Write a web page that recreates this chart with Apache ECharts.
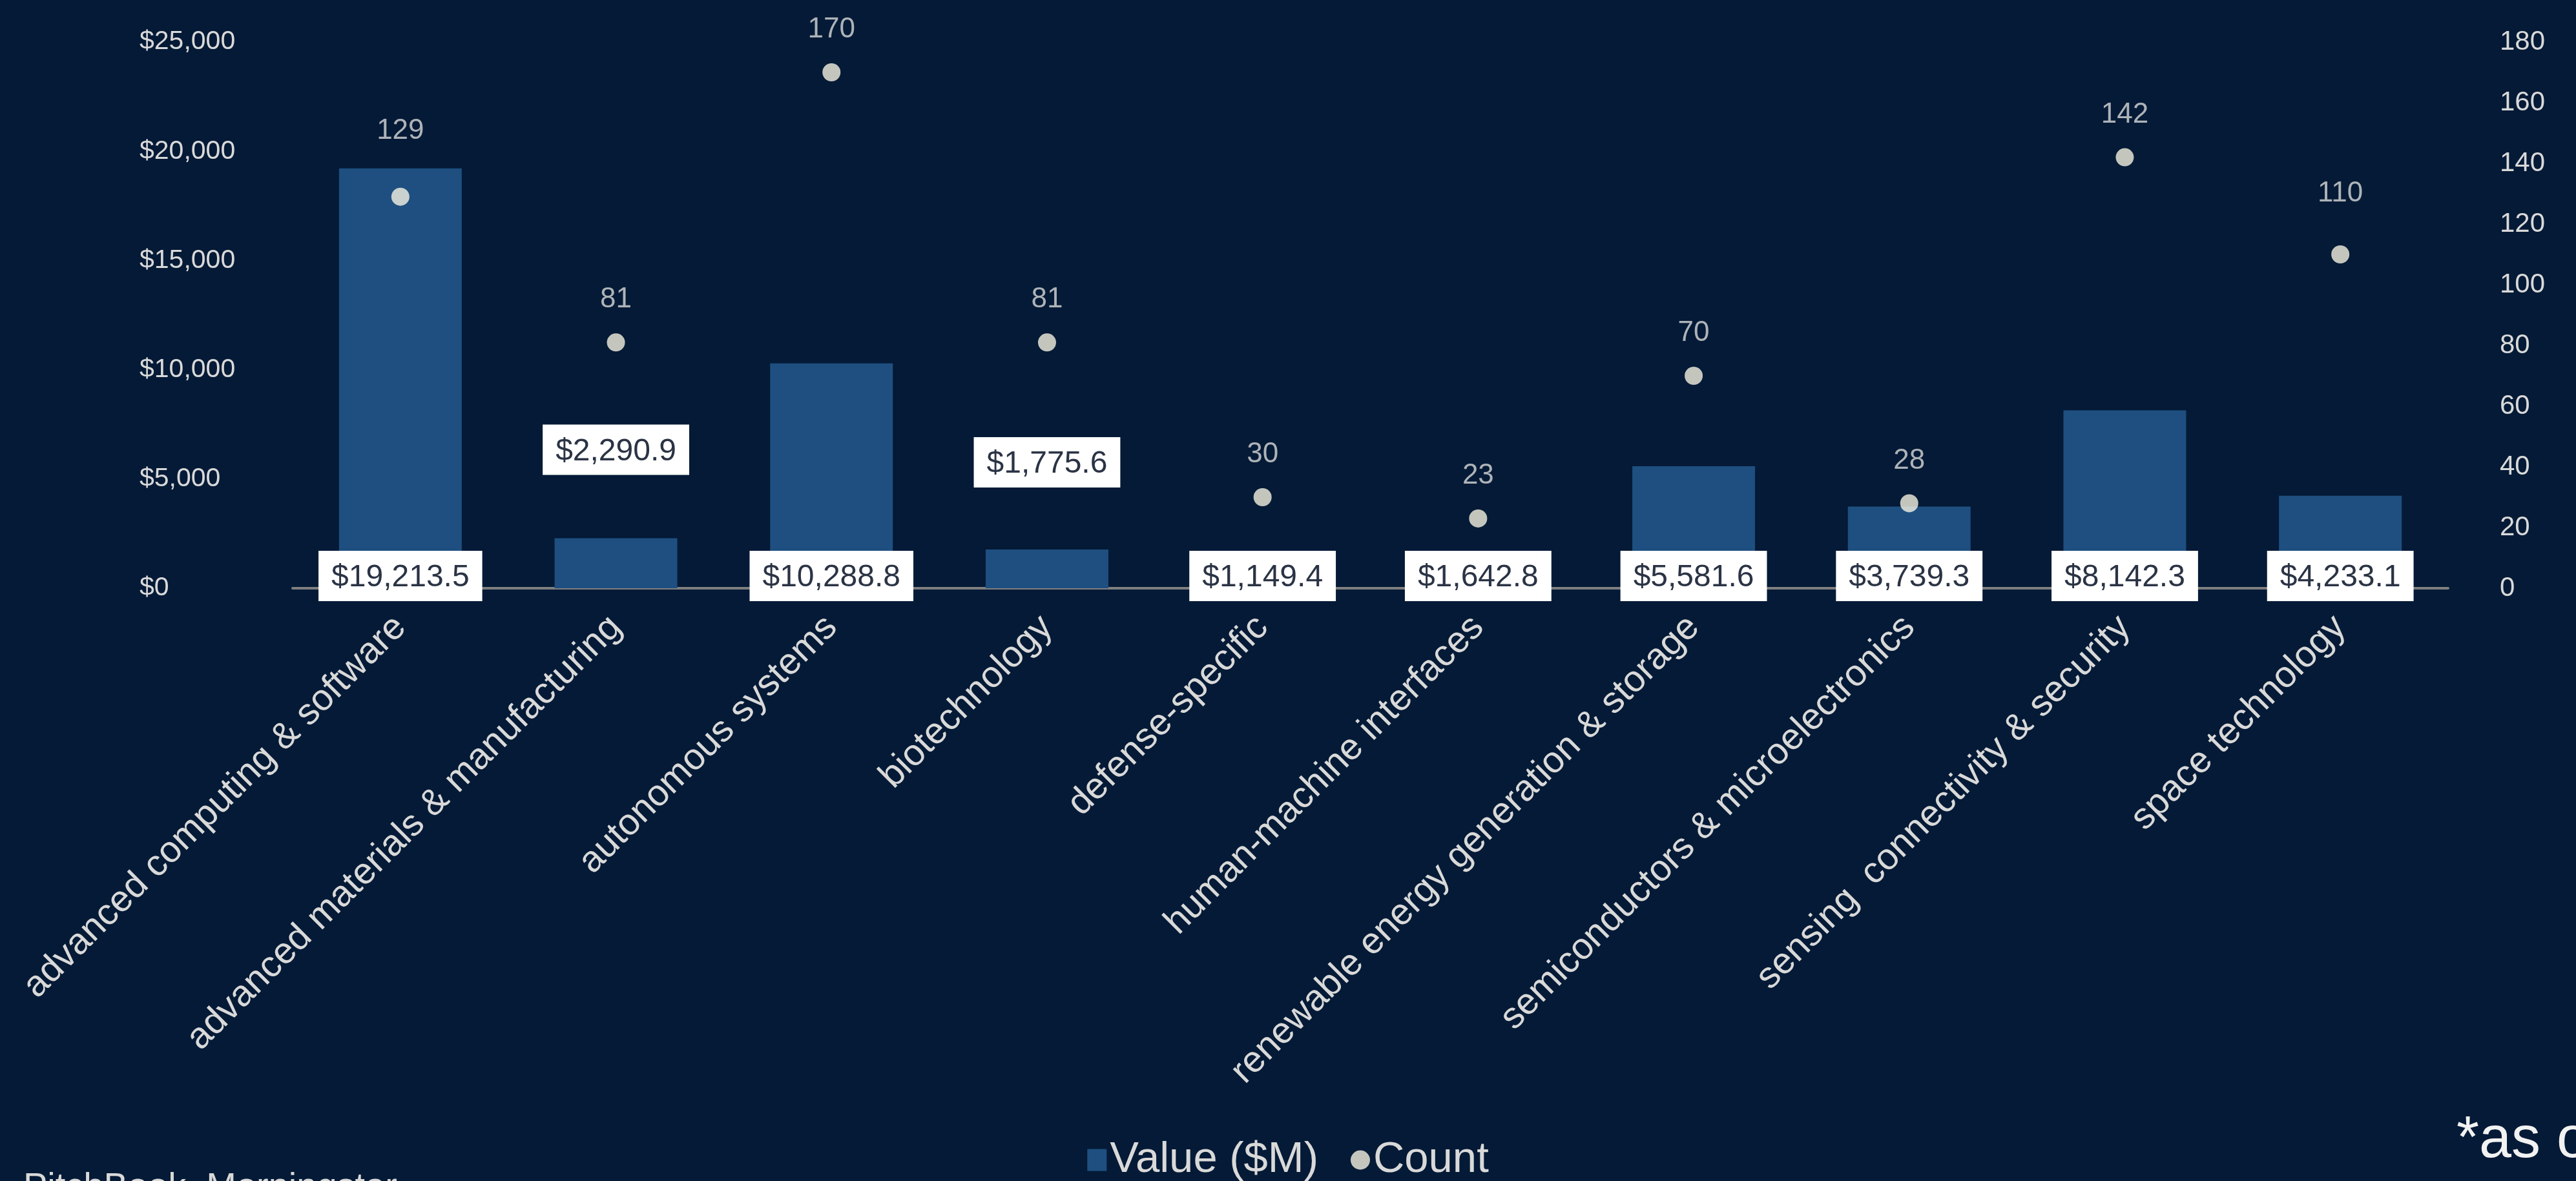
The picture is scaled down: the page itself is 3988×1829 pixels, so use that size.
<!DOCTYPE html>
<html>
<head>
<meta charset="utf-8">
<style>
html,body{margin:0;padding:0;background:#041a36;}
#chart{width:3988px;height:1829px;}
</style>
<script src="https://cdn.jsdelivr.net/npm/echarts@6/dist/echarts.min.js"></script>
</head>
<body>
<div id="chart"></div>
<script>
const categories = [
  'advanced computing & software',
  'advanced materials & manufacturing',
  'autonomous systems',
  'biotechnology',
  'defense-specific',
  'human-machine interfaces',
  'renewable energy generation & storage',
  'semiconductors & microelectronics',
  'sensing  connectivity & security',
  'space technology'
];
const dealValue = [19213.5, 2290.9, 10288.8, 1775.6, 1149.4, 1642.8, 5581.6, 3739.3, 8142.3, 4233.1];
const dealCount = [129, 81, 170, 81, 30, 23, 70, 28, 142, 110];
const valueTicks = [0, 5000, 10000, 15000, 20000, 25000];
const countTicks = [0, 20, 40, 60, 80, 100, 120, 140, 160, 180];

const FONT = '"Liberation Sans", Arial, sans-serif';
const TXT = '#d9d9d9';

function money(v, dec) {
  return '$' + v.toLocaleString('en-US', {minimumFractionDigits: dec, maximumFractionDigits: dec});
}

// labels that sit above short bars instead of at the base
const lifted = {1: 98, 3: 96};
// count labels placed further above their dot
const countGap = {0: 66, 9: 58};

const barData = dealValue.map((v, i) => {
  const item = {value: v};
  if (lifted[i] !== undefined) {
    item.label = {position: 'top', distance: lifted[i], offset: [0, 0]};
  }
  return item;
});
const countData = dealCount.map((v, i) => {
  const item = {value: v};
  if (countGap[i] !== undefined) item.label = {distance: countGap[i]};
  return item;
});

const chart = echarts.init(document.getElementById('chart'), null, {renderer: 'canvas'});
chart.setOption({
  backgroundColor: '#041a36',
  animation: false,
  textStyle: {fontFamily: FONT},
  grid: {left: 453, right: 198, top: 65, bottom: 918, containLabel: false},
  legend: {
    bottom: -6,
    left: 'center',
    itemWidth: 30,
    itemHeight: 34,
    itemGap: 50,
    textStyle: {color: TXT, fontSize: 67, fontFamily: FONT},
    data: [
      {name: 'Value ($M)', icon: 'rect'},
      {name: 'Count', icon: 'circle'}
    ]
  },
  xAxis: {
    type: 'category',
    data: categories,
    axisLine: {show: true, lineStyle: {color: '#7f7f7f', width: 4}},
    axisTick: {show: false},
    axisLabel: {
      rotate: 45,
      interval: 0,
      margin: 52,
      color: TXT,
      fontSize: 57,
      fontFamily: FONT
    }
  },
  yAxis: [
    {
      type: 'value',
      min: valueTicks[0],
      max: valueTicks[valueTicks.length - 1],
      interval: valueTicks[1] - valueTicks[0],
      splitLine: {show: false},
      axisLine: {show: false},
      axisTick: {show: false},
      axisLabel: {color: TXT, fontSize: 41, margin: 237, align: 'left', formatter: v => money(v, 0)}
    },
    {
      type: 'value',
      min: countTicks[0],
      max: countTicks[countTicks.length - 1],
      interval: countTicks[1] - countTicks[0],
      splitLine: {show: false},
      axisLine: {show: false},
      axisTick: {show: false},
      axisLabel: {color: TXT, fontSize: 42, margin: 80}
    }
  ],
  series: [
    {
      name: 'Value ($M)',
      type: 'bar',
      yAxisIndex: 0,
      barWidth: 190,
      itemStyle: {color: '#1e4f80'},
      data: barData,
      label: {
        show: true,
        position: 'insideBottom',
        distance: 0,
        offset: [0, 20],
        formatter: p => money(p.value, 1),
        color: '#2b3445',
        fontSize: 48,
        fontFamily: FONT,
        backgroundColor: '#ffffff',
        padding: [18, 20, 12, 20]
      },
      z: 2
    },
    {
      name: 'Count',
      type: 'scatter',
      yAxisIndex: 1,
      symbol: 'circle',
      symbolSize: 28,
      itemStyle: {color: '#f5f1e1'},
      data: countData,
      label: {
        show: true,
        position: 'top',
        distance: 30,
        color: TXT,
        fontSize: 44,
        fontFamily: FONT
      },
      z: 3
    }
  ],
  graphic: [
    {
      type: 'text',
      left: 3803,
      top: 1722,
      style: {text: '*as of', fill: '#f2f2f2', fontSize: 90, fontFamily: FONT}
    },
    {
      type: 'text',
      left: 36,
      top: 1812,
      style: {text: 'PitchBook  Morningstar', fill: '#d9d9d9', fontSize: 56, fontFamily: FONT}
    }
  ]
});
</script>
</body>
</html>
